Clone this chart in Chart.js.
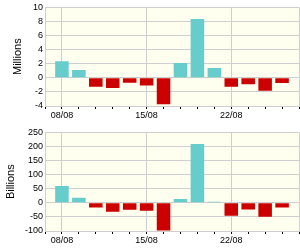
<!DOCTYPE html>
<html>
<head>
<meta charset="utf-8">
<script src="https://cdn.jsdelivr.net/npm/chart.js@4/dist/chart.umd.min.js"></script>
<style>
  html, body { margin: 0; padding: 0; background: #ffffff; }
  .box { position: absolute; left: 0; width: 300px; height: 125px; }
  #b1 { top: 0; }
  #b2 { top: 125px; }
</style>
</head>
<body>
<div class="box" id="b1"><canvas id="c1" width="300" height="125"></canvas></div>
<div class="box" id="b2"><canvas id="c2" width="300" height="125"></canvas></div>
<script>
// Categories (trading days); blank slots at both ends frame the plot
const dates = ['', '08/08', '09/08', '10/08', '11/08', '12/08', '15/08', '16/08', '17/08', '18/08', '19/08', '22/08', '23/08', '24/08', '25/08', ''];
const shownLabels = ['08/08', '15/08', '22/08'];

// Series values
const millions = [null, 2.35, 1.1, -1.25, -1.45, -0.7, -1.1, -3.75, 2.1, 8.35, 1.4, -1.25, -0.9, -1.85, -0.75, null];
const billions = [null, 60, 18, -17, -32, -25, -28, -98, 14, 209, 3.5, -46, -24, -49.5, -16.5, null];

// Y axis ticks
const millionsTicks = { min: -4, max: 10, step: 2 };
const billionsTicks = { min: -100, max: 250, step: 50 };

const POS = '#66cccc';
const NEG = '#cc0000';
const GRID = '#cfcfcf';
const FONT = 'Liberation Sans, Arial, sans-serif';

const plotBg = {
  id: 'plotBg',
  beforeDraw(chart) {
    const { ctx, chartArea: a } = chart;
    ctx.save();
    ctx.fillStyle = '#ffffef';
    ctx.fillRect(a.left, a.top, a.right - a.left, a.bottom - a.top);
    ctx.restore();
  }
};

function makeChart(id, values, yt, title, titlePad, topPad) {
  const last = dates.length - 1;
  return new Chart(document.getElementById(id), {
    type: 'bar',
    data: {
      labels: dates,
      datasets: [{
        data: values,
        backgroundColor: (c) => (c.raw >= 0 ? POS : NEG),
        borderWidth: 0,
        barPercentage: 0.8,
        categoryPercentage: 1.0
      }]
    },
    options: {
      responsive: false,
      animation: false,
      devicePixelRatio: 1,
      layout: { padding: { top: topPad, right: 0, bottom: 0, left: 0 } },
      plugins: { legend: { display: false }, tooltip: { enabled: false } },
      scales: {
        x: {
          offset: false,
          grid: {
            offset: false,
            color: (c) => {
              const i = c.index;
              if (i === 0 || i === last) return GRID;
              return shownLabels.includes(dates[i]) ? GRID : 'rgba(0,0,0,0)';
            },
            tickColor: '#000000',
            tickLength: 3,
            drawTicks: true
          },
          border: { color: GRID },
          ticks: {
            autoSkip: false,
            maxRotation: 0,
            padding: 1,
            color: '#000000',
            font: { family: FONT, size: 9 },
            callback: (v, i) => (shownLabels.includes(dates[i]) ? dates[i] : '')
          },
          afterFit: (s) => { s.height = 19; }
        },
        y: {
          min: yt.min,
          max: yt.max,
          grid: { color: GRID, drawTicks: false },
          border: { color: GRID },
          ticks: {
            stepSize: yt.step,
            padding: 2,
            color: '#000000',
            font: { family: FONT, size: 9 }
          },
          title: {
            display: true,
            text: title,
            color: '#000000',
            font: { family: FONT, size: 11 },
            padding: { top: titlePad, bottom: 0 }
          },
          afterFit: (s) => { s.width = 45; }
        }
      }
    },
    plugins: [plotBg]
  });
}

makeChart('c1', millions, millionsTicks, 'Millions', 11, 7);
makeChart('c2', billions, billionsTicks, 'Billions', 4, 6);
</script>
</body>
</html>
